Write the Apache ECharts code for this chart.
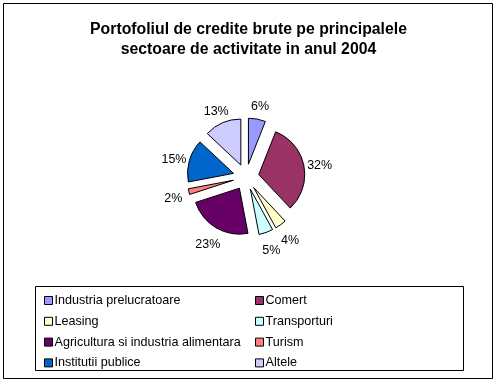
<!DOCTYPE html>
<html>
<head>
<meta charset="utf-8">
<script src="https://cdn.jsdelivr.net/npm/echarts@6/dist/echarts.min.js"></script>
<style>
html,body{margin:0;padding:0;background:#fff;}
#chart{width:497px;height:383px;}
</style>
</head>
<body>
<div id="chart"></div>
<script>
const titleText = 'Portofoliul de credite brute pe principalele\nsectoare de activitate in anul 2004';
const categories = ['Industria prelucratoare','Comert','Leasing','Transporturi','Agricultura si industria alimentara','Turism','Institutii publice','Altele'];
const values = [6, 32, 4, 5, 23, 2, 15, 13];
const colors = ['#9999FF','#993366','#FFFFCC','#CCFFFF','#660066','#FF8080','#0066CC','#CCCCFF'];
const legendCol1 = [categories[0], categories[2], categories[4], categories[6]];
const legendCol2 = [categories[1], categories[3], categories[5], categories[7]];

const chart = echarts.init(document.getElementById('chart'), null, {renderer:'canvas'});
const font = 'Arial, "Liberation Sans", sans-serif';
const legendCommon = {
  orient: 'vertical',
  top: 289,
  itemWidth: 8,
  itemHeight: 8,
  itemGap: 7.8,
  icon: 'rect',
  selectedMode: false,
  itemStyle: {borderColor:'#000', borderWidth:1},
  textStyle: {fontFamily: font, fontSize: 12.6, color:'#000', padding:[0,0,0,-3]}
};
chart.setOption({
  backgroundColor: '#fff',
  animation: false,
  color: colors,
  title: {
    text: titleText,
    left: 'center',
    top: 15,
    textStyle: {fontFamily: font, fontSize: 15.8, fontWeight: 'bold', color:'#000', lineHeight: 20}
  },
  legend: [
    Object.assign({}, legendCommon, {left: 39, data: legendCol1}),
    Object.assign({}, legendCommon, {left: 250, data: legendCol2})
  ],
  graphic: [
    {type:'rect', shape:{x:3.5,y:3.5,width:489,height:375}, style:{fill:null, stroke:'#000', lineWidth:1}, z:-1},
    {type:'rect', shape:{x:35.5,y:286.5,width:428,height:84}, style:{fill:null, stroke:'#000', lineWidth:1}, z:-1}
  ],
  series: [{
    type: 'pie',
    center: [246, 177],
    radius: 46,
    startAngle: 90,
    clockwise: true,
    avoidLabelOverlap: false,
    selectedMode: 'multiple',
    selectedOffset: 13,
    emphasis: {disabled: true, scale: false},
    itemStyle: {borderColor:'#000', borderWidth:1},
    label: {
      show: true,
      position: 'outside',
      formatter: '{d}%',
      fontFamily: font,
      fontSize: 12.5,
      color: '#000',
      distanceToLabelLine: 0
    },
    labelLayout: function () { return {align: 'center', dy: 3, hideOverlap: false}; },
    labelLine: {show: false, length: 16, length2: 0},
    data: categories.map((c, i) => ({name: c, value: values[i], selected: true}))
  }]
});
</script>
</body>
</html>
